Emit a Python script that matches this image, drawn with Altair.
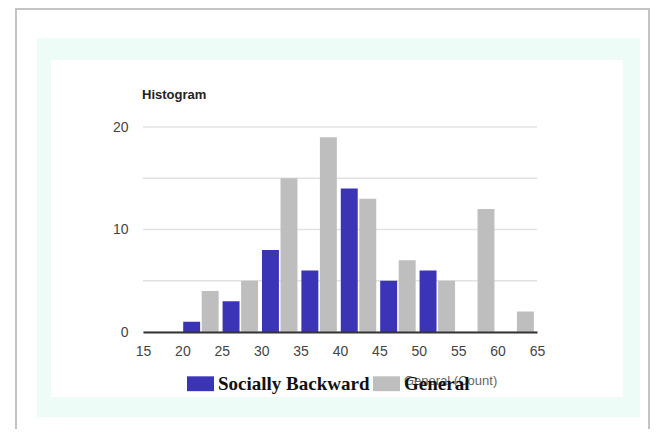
import altair as alt
import pandas as pd

bins = [20, 25, 30, 35, 40, 45, 50, 55, 60]
socially_backward = [1, 3, 8, 6, 14, 5, 6, 0, 0]
general = [4, 5, 15, 19, 13, 7, 5, 12, 2]
series_names = ["Socially Backward", "General"]
series_colors = ["#3c34b6", "#bebebe"]
x_ticks = [15, 20, 25, 30, 35, 40, 45, 50, 55, 60, 65]
y_grid = [0, 5, 10, 15, 20]
y_labels = [0, 10, 20]
chart_title = "Histogram"

rows = []
for b, v in zip(bins, socially_backward):
    if v > 0:
        rows.append({"bin": b, "series": series_names[0], "count": v, "lo": 0.1, "hi": 2.25})
for b, v in zip(bins, general):
    if v > 0:
        rows.append({"bin": b, "series": series_names[1], "count": v, "lo": 2.45, "hi": 4.6})
df = pd.DataFrame(rows)

W, H = 394, 205
PL, PT = 135, 119
PR = 643 - PL - W
PB = 421 - PT - H

label_font = "Liberation Sans Narrow, Arial Narrow, Liberation Sans"
yscale = alt.Scale(domain=[0, 20], nice=False)

frame = alt.Chart(pd.DataFrame({"k": [0]})).mark_rect(
    fill="white", stroke="#c4c4c4", strokeWidth=2
).encode(x=alt.value(-127), x2=alt.value(506), y=alt.value(-118), y2=alt.value(320))

cyan = alt.Chart(pd.DataFrame({"k": [0]})).mark_rect(fill="#eefcf8").encode(
    x=alt.value(-106), x2=alt.value(497), y=alt.value(-89), y2=alt.value(290)
)
inner = alt.Chart(pd.DataFrame({"k": [0]})).mark_rect(fill="white").encode(
    x=alt.value(-92), x2=alt.value(480), y=alt.value(-67), y2=alt.value(270)
)

title_layer = alt.Chart(pd.DataFrame({"t": [chart_title]})).mark_text(
    align="left", baseline="middle", font="Liberation Sans", fontSize=13,
    fontWeight="bold", color="#222222"
).encode(text="t:N", x=alt.value(-1), y=alt.value(-32))

ghost = alt.Chart(pd.DataFrame({"t": ["General (Count)"]})).mark_text(
    align="left", baseline="middle", font="Liberation Sans", fontSize=13, color="#666666"
).encode(text="t:N", x=alt.value(261), y=alt.value(254))

grid_layer = alt.Chart(pd.DataFrame({"g": y_grid})).mark_rule(
    color="#e2e2e2", strokeWidth=1.5
).encode(y=alt.Y("g:Q", scale=yscale), x=alt.value(0), x2=alt.value(W))

bars = alt.Chart(df).transform_calculate(
    x0="datum.bin + datum.lo", x1="datum.bin + datum.hi"
).mark_bar().encode(
    x=alt.X("x0:Q", scale=alt.Scale(domain=[15, 65], nice=False, zero=False),
            axis=alt.Axis(values=x_ticks, title=None, ticks=False, grid=False,
                          domain=True, domainColor="#333333", domainWidth=2,
                          labelFlush=False, labelOverlap=False,
                          labelPadding=12, labelFontSize=14, labelColor="#444444",
                          labelFont=label_font, zindex=1)),
    x2="x1:Q",
    y=alt.Y("count:Q", scale=yscale,
            axis=alt.Axis(values=y_labels, title=None, ticks=False, domain=False,
                          grid=False, labelFlush=False,
                          labelPadding=15, labelFontSize=14, labelColor="#444444",
                          labelFont=label_font, zindex=1)),
    y2=alt.datum(0),
    color=alt.Color("series:N",
                    scale=alt.Scale(domain=series_names, range=series_colors),
                    legend=alt.Legend(title=None, orient="none", legendX=44, legendY=243,
                                      direction="horizontal",
                                      symbolType="M-1,-0.55H1V0.55H-1Z", symbolSize=729,
                                      symbolStrokeWidth=0, symbolOpacity=1,
                                      labelFont="Liberation Serif", labelFontWeight="bold",
                                      labelFontSize=19, labelColor="#111111",
                                      labelOffset=4, columnPadding=3, padding=0)),
)

chart = alt.layer(frame, cyan, inner, grid_layer, title_layer, ghost, bars).properties(
    width=W, height=H,
    autosize=alt.AutoSizeParams(type="none"),
    padding={"left": PL, "top": PT, "right": PR, "bottom": PB},
).configure_view(stroke=None, clip=False).configure(background="white")

chart.save("out.html", embed_options={"renderer": "svg", "actions": False})
